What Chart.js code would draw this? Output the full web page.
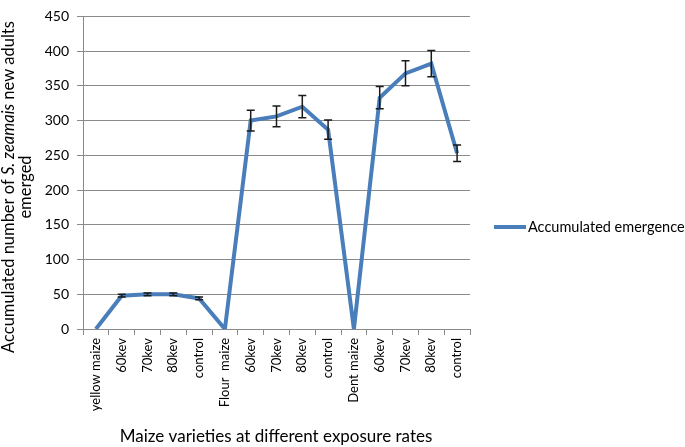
<!DOCTYPE html>
<html>
<head>
<meta charset="utf-8">
<script src="https://cdn.jsdelivr.net/npm/chart.js@4"></script>
<style>
  html, body { margin: 0; padding: 0; background: #fff; }
  #wrap { position: relative; width: 685px; height: 447px; }
</style>
</head>
<body>
<div id="wrap"><canvas id="chartEmergence" width="685" height="447"></canvas></div>
<script>
// categories (groupes variété / dose)
const categories = ['yellow maize', '60kev', '70kev', '80kev', 'control',
  'Flour  maize', '60kev', '70kev', '80kev', 'control',
  'Dent maize', '60kev', '70kev', '80kev', 'control'];
const emergence = [0, 48, 50, 50, 44, 0, 300, 306, 320, 287, 0, 333, 368, 382, 253];
const erreurs   = [0, 2, 2, 2, 2, 0, 15, 15, 16, 14, 0, 16, 18, 19, 12];
const yTicks = [0, 50, 100, 150, 200, 250, 300, 350, 400, 450];

const FONT = 'Lato, "Open Sans", sans-serif';
const BLEU = '#4a7ebb';
const GRIS = '#8a8a8a';

// barres d'erreur
const errorBars = {
  id: 'errorBars',
  afterDatasetsDraw(chart) {
    const ctx = chart.ctx, x = chart.scales.x, y = chart.scales.y;
    ctx.save();
    ctx.strokeStyle = '#1a1a1a';
    ctx.lineWidth = 1.5;
    emergence.forEach((v, i) => {
      const e = erreurs[i];
      if (!e) return;
      const px = x.getPixelForValue(i), y1 = y.getPixelForValue(v + e), y2 = y.getPixelForValue(v - e);
      ctx.beginPath();
      ctx.moveTo(px, y1); ctx.lineTo(px, y2);
      ctx.moveTo(px - 4, y1); ctx.lineTo(px + 4, y1);
      ctx.moveTo(px - 4, y2); ctx.lineTo(px + 4, y2);
      ctx.stroke();
    });
    ctx.restore();
  }
};

// titres des axes + légende
const decor = {
  id: 'decor',
  afterDraw(chart) {
    const ctx = chart.ctx;
    ctx.save();
    ctx.fillStyle = '#000';
    // titre axe x
    ctx.font = '17px ' + FONT;
    ctx.textAlign = 'center';
    ctx.textBaseline = 'middle';
    ctx.fillText('Maize varieties at different exposure rates', 276, 437);
    // titre axe y (avec S. zeamais en italique)
    ctx.translate(9, 187);
    ctx.rotate(-Math.PI / 2);
    const parts = [['Accumulated number of ', false], ['S. zeamais', true], [' new adults', false]];
    let total = 0;
    parts.forEach(p => { ctx.font = (p[1] ? 'italic ' : '') + '16.5px ' + FONT; total += ctx.measureText(p[0]).width; });
    let cx = -total / 2;
    ctx.textAlign = 'left';
    parts.forEach(p => {
      ctx.font = (p[1] ? 'italic ' : '') + '16.5px ' + FONT;
      ctx.fillText(p[0], cx, 0);
      cx += ctx.measureText(p[0]).width;
    });
    ctx.font = '16.5px ' + FONT;
    ctx.textAlign = 'center';
    ctx.fillText('emerged', 0, 17);
    ctx.restore();
    // légende
    ctx.save();
    ctx.strokeStyle = BLEU;
    ctx.lineWidth = 4;
    ctx.beginPath(); ctx.moveTo(494, 227); ctx.lineTo(526, 227); ctx.stroke();
    ctx.fillStyle = '#000';
    ctx.font = '14.5px ' + FONT;
    ctx.textBaseline = 'middle';
    ctx.fillText('Accumulated emergence', 528, 227);
    ctx.restore();
  }
};

new Chart(document.getElementById('chartEmergence'), {
  type: 'line',
  data: { labels: categories, datasets: [{ label: 'Accumulated emergence', data: emergence, borderColor: BLEU, borderWidth: 4, pointRadius: 0, tension: 0, fill: false }] },
  options: {
    responsive: false, animation: false,
    layout: { padding: { top: 5, right: 215, left: 0, bottom: 0 } },
    plugins: { legend: { display: false }, tooltip: { enabled: false } },
    scales: {
      x: {
        offset: true,
        afterFit: s => { s.height = 118; },
        grid: { offset: true, drawOnChartArea: false, tickLength: 6, color: GRIS },
        border: { color: GRIS, width: 1 },
        ticks: { autoSkip: false, maxRotation: 90, minRotation: 90, padding: 3, color: '#000', font: { family: FONT, size: 13 } }
      },
      y: {
        min: 0, max: 450,
        afterFit: s => { s.width = 83; },
        afterBuildTicks: s => { s.ticks = yTicks.map(v => ({ value: v })); },
        grid: { color: GRIS, tickLength: 6 },
        border: { color: GRIS, width: 1 },
        ticks: { padding: 8, color: '#000', font: { family: FONT, size: 14 } }
      }
    }
  },
  plugins: [errorBars, decor]
});
</script>
</body>
</html>
